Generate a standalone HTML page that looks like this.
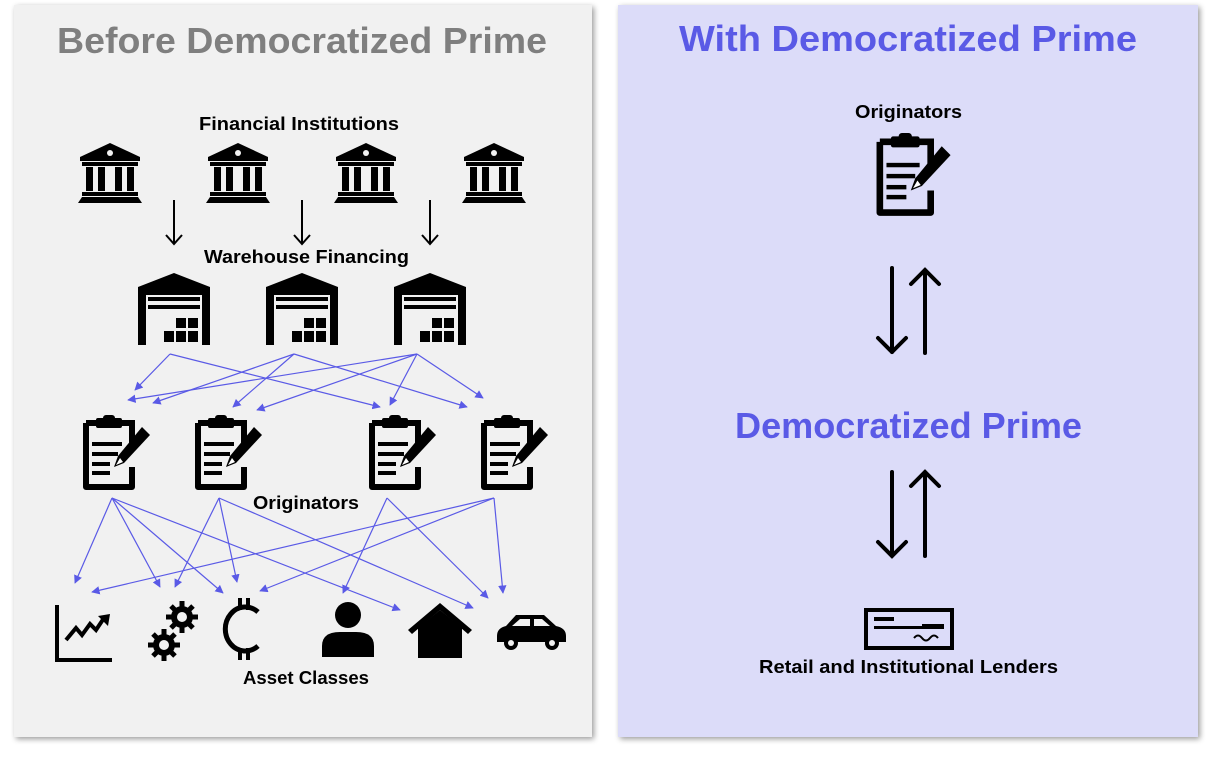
<!DOCTYPE html>
<html><head><style>
html,body{margin:0;padding:0;background:#fff;}
svg{display:block;font-family:"Liberation Sans",sans-serif;}
</style></head><body>
<svg width="1216" height="758" viewBox="0 0 1216 758" xmlns="http://www.w3.org/2000/svg">
<defs>
<filter id="sh" x="-5%" y="-5%" width="110%" height="110%"><feGaussianBlur in="SourceAlpha" stdDeviation="3"/><feOffset dx="2" dy="2"/><feComponentTransfer><feFuncA type="linear" slope="0.4"/></feComponentTransfer><feMerge><feMergeNode/><feMergeNode in="SourceGraphic"/></feMerge></filter>
<marker id="ba" viewBox="0 0 10 10" refX="9" refY="5" markerWidth="7" markerHeight="7" orient="auto"><path d="M0,0L10,5L0,10z" fill="#5a5ae6"/></marker>
<symbol id="bank" viewBox="0 0 64 60">
<path d="M32 0L62 14V18H2V14Z" fill="#000"/><circle cx="32" cy="10" r="3" fill="#f1f1f1"/>
<rect x="4" y="19" width="56" height="4" fill="#000"/>
<rect x="8" y="24" width="7" height="24" fill="#000"/><rect x="20" y="24" width="7" height="24" fill="#000"/><rect x="37" y="24" width="7" height="24" fill="#000"/><rect x="49" y="24" width="7" height="24" fill="#000"/>
<rect x="4" y="49" width="56" height="4" fill="#000"/><path d="M0 60L4 54H60L64 60Z" fill="#000"/>
</symbol>
<symbol id="wh" viewBox="0 0 72 72">
<path d="M0 14L36 0L72 14V72H64V22H8V72H0Z" fill="#000"/>
<rect x="10" y="24" width="52" height="4" fill="#000"/><rect x="10" y="32" width="52" height="4" fill="#000"/>
<rect x="38" y="45" width="10" height="10" fill="#000"/><rect x="50" y="45" width="10" height="10" fill="#000"/>
<rect x="26" y="58" width="10" height="11" fill="#000"/><rect x="38" y="58" width="10" height="11" fill="#000"/><rect x="50" y="58" width="10" height="11" fill="#000"/>
</symbol>
<symbol id="clip" viewBox="0 0 72 76">
<path d="M6 8H52V30" fill="none" stroke="#000" stroke-width="6"/>
<path d="M52 52V72H6V8" fill="none" stroke="#000" stroke-width="6" stroke-linejoin="round"/>
<rect x="16" y="3" width="26" height="10" rx="2" fill="#000"/><rect x="23" y="0" width="12" height="6" rx="3" fill="#000"/>
<rect x="12" y="27" width="30" height="4" fill="#000"/><rect x="12" y="37" width="26" height="4" fill="#000"/><rect x="12" y="47" width="18" height="4" fill="#000"/><rect x="12" y="56" width="18" height="4" fill="#000"/>
<path d="M62 12L70 20L44 48L34 52L38 41Z" fill="#000"/><path d="M40 43L36 50L43 47Z" fill="#fff"/>
</symbol>
</defs>

<rect x="14" y="5" width="578" height="732" fill="#f1f1f1" filter="url(#sh)"/>
<rect x="618" y="5" width="580" height="732" fill="#dcdcf9" filter="url(#sh)"/>

<text x="57" y="53" textLength="490" lengthAdjust="spacingAndGlyphs" font-size="36" font-weight="bold" fill="#7f7f7f">Before Democratized Prime</text>
<text x="679" y="51" textLength="458" lengthAdjust="spacingAndGlyphs" font-size="36" font-weight="bold" fill="#5a5ae6">With Democratized Prime</text>

<text x="199" y="130" textLength="200" lengthAdjust="spacingAndGlyphs" font-size="18" font-weight="bold">Financial Institutions</text>
<use href="#bank" x="78" y="143" width="64" height="60"/>
<use href="#bank" x="206" y="143" width="64" height="60"/>
<use href="#bank" x="334" y="143" width="64" height="60"/>
<use href="#bank" x="462" y="143" width="64" height="60"/>

<g stroke="#000" stroke-width="2" fill="none">
<path d="M174 200V244M166 235L174 244L182 235"/>
<path d="M302 200V244M294 235L302 244L310 235"/>
<path d="M430 200V244M422 235L430 244L438 235"/>
</g>
<text x="204" y="263" textLength="205" lengthAdjust="spacingAndGlyphs" font-size="18" font-weight="bold">Warehouse Financing</text>
<use href="#wh" x="138" y="273" width="72" height="72"/>
<use href="#wh" x="266" y="273" width="72" height="72"/>
<use href="#wh" x="394" y="273" width="72" height="72"/>

<g stroke="#5a5ae6" stroke-width="1.2" fill="none" marker-end="url(#ba)">
<path d="M170 354L135 390"/><path d="M170 354L380 407"/>
<path d="M294 354L153 403"/><path d="M294 354L233 407"/><path d="M294 354L467 407"/>
<path d="M417 354L128 400"/><path d="M417 354L257 410"/><path d="M417 354L390 405"/><path d="M417 354L483 398"/>
<path d="M112 498L75 583"/><path d="M112 498L160 587"/><path d="M112 498L223 593"/><path d="M112 498L400 610"/>
<path d="M219 498L175 587"/><path d="M219 498L237 582"/><path d="M219 498L473 608"/>
<path d="M387 498L343 593"/><path d="M387 498L488 598"/>
<path d="M494 498L92 592"/><path d="M494 498L260 591"/><path d="M494 498L503 593"/>
</g>

<use href="#clip" x="80" y="415" width="72" height="76"/>
<use href="#clip" x="192" y="415" width="72" height="76"/>
<use href="#clip" x="366" y="415" width="72" height="76"/>
<use href="#clip" x="478" y="415" width="72" height="76"/>
<text x="253" y="509" textLength="106" lengthAdjust="spacingAndGlyphs" font-size="18" font-weight="bold">Originators</text>

<g fill="#000">
<path d="M57 605V660H112" fill="none" stroke="#000" stroke-width="4"/>
<path d="M66 640L76 628L82 635L90 624L96 630L104 618" fill="none" stroke="#000" stroke-width="4"/>
<path d="M98 616L110 614L108 626Z"/>
<g transform="translate(182,617)"><circle r="11"/><g stroke="#000" stroke-width="5"><path d="M0 -16V16M-16 0H16M-11 -11L11 11M-11 11L11 -11"/></g><circle r="5" fill="#f1f1f1"/></g>
<g transform="translate(164,645)"><circle r="11"/><g stroke="#000" stroke-width="5"><path d="M0 -16V16M-16 0H16M-11 -11L11 11M-11 11L11 -11"/></g><circle r="5" fill="#f1f1f1"/></g>
<path d="M258 612A20 22 0 1 0 258 646" fill="none" stroke="#000" stroke-width="5"/>
<rect x="238" y="598" width="4" height="12"/><rect x="246" y="598" width="4" height="12"/>
<rect x="238" y="648" width="4" height="12"/><rect x="246" y="648" width="4" height="12"/>
<circle cx="348" cy="615" r="13"/><path d="M322 657V646Q322 632 340 632H356Q374 632 374 646V657Z"/>
<path d="M408 630L440 603L472 630L468 634L440 610L412 634Z"/><path d="M418 628L440 610L462 628V658H418Z"/>
<path d="M497 636Q497 628 506 626L516 615H544L556 626Q566 628 566 636V642H497Z"/>
<path d="M520 619H530V626H512Z M534 619H542L550 626H534Z" fill="#f1f1f1"/>
<circle cx="511" cy="643" r="7"/><circle cx="552" cy="643" r="7"/>
<circle cx="511" cy="643" r="3" fill="#f1f1f1"/><circle cx="552" cy="643" r="3" fill="#f1f1f1"/>
</g>
<text x="243" y="684" textLength="126" lengthAdjust="spacingAndGlyphs" font-size="18" font-weight="bold">Asset Classes</text>

<text x="855" y="118" textLength="107" lengthAdjust="spacingAndGlyphs" font-size="18" font-weight="bold">Originators</text>
<use href="#clip" x="873" y="133" width="80" height="84"/>
<g stroke="#000" stroke-width="4" fill="none" stroke-linecap="round">
<path d="M892 268V352M878 338L892 352"/><path d="M892 352L906 338"/>
<path d="M925 353V270M911 284L925 270L939 284"/>
<path d="M892 472V556M878 542L892 556L906 542"/>
<path d="M925 556V472M911 486L925 472L939 486"/>
</g>
<text x="735" y="438" textLength="347" lengthAdjust="spacingAndGlyphs" font-size="36" font-weight="bold" fill="#5a5ae6">Democratized Prime</text>
<rect x="866" y="610" width="86" height="38" fill="none" stroke="#000" stroke-width="4"/>
<g fill="#000"><rect x="874" y="617" width="20" height="4"/><rect x="874" y="626" width="50" height="3"/><rect x="922" y="624" width="22" height="5"/></g>
<path d="M914 638q4 -5 8 0t8 0t8 0" fill="none" stroke="#000" stroke-width="2"/>
<text x="759" y="673" textLength="299" lengthAdjust="spacingAndGlyphs" font-size="18" font-weight="bold">Retail and Institutional Lenders</text>
</svg>
</body></html>
